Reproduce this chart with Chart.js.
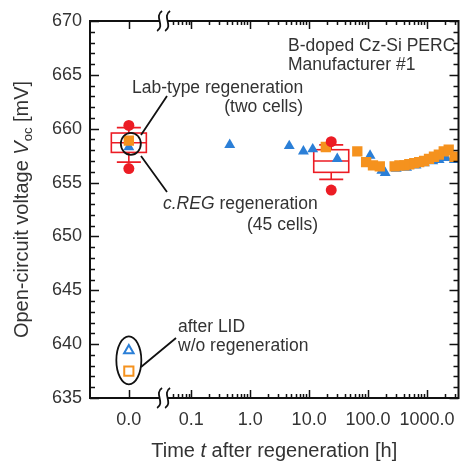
<!DOCTYPE html>
<html><head><meta charset="utf-8">
<script src="https://cdn.jsdelivr.net/npm/chart.js@4"></script>
<style>html,body{margin:0;padding:0;background:#fff}#wrap{width:467px;height:465px}</style>
</head><body><div id="wrap"><canvas id="c" width="467" height="465"></canvas></div>
<script>
// ---------- data ----------
const T_ZERO = 0.00875;               // axis position standing for t = 0.0 h (left of the axis break)
const AXIS_BREAK = 0.034;             // where the x axis is broken
const xMin = 0.00192, xMax = 3415;
const yMin = 635, yMax = 670;
const xTickValues = [T_ZERO, 0.1, 1, 10, 100, 1000];
const xTickLabels = ['0.0', '0.1', '1.0', '10.0', '100.0', '1000.0'];
const yTickStep = 5;

// blue triangles (time in h, Voc in mV)
const blueT = [T_ZERO, 0.45, 4.6, 8.0, 11.5, 30, 108, 171, 195, 300, 450, 650, 900, 1250, 1600, 2100, 2900];
const blueV = [658.3, 658.5, 658.4, 657.9, 658.1, 657.2, 657.5, 656.1, 655.9, 656.3, 656.4, 656.6, 656.8, 657.0, 657.1, 657.3, 657.1];
// orange squares
const orangeT = [T_ZERO, 19.2, 65.6, 92.6, 121, 158, 282, 340, 413, 500, 607, 736, 891, 1080, 1310, 1585, 1920, 2330, 2930];
const orangeV = [658.9, 658.3, 657.9, 656.9, 656.6, 656.5, 656.5, 656.6, 656.6, 656.7, 656.8, 656.9, 657.0, 657.2, 657.4, 657.6, 657.9, 658.05, 657.4];
// after LID, without regeneration (open markers)
const lidBlueV = [639.4];
const lidOrangeV = [637.5];
// c.REG box plots (45 cells)
const boxT    = [T_ZERO, 23.7];
const boxLow  = [656.9, 655.3];
const boxQ1   = [657.8, 655.95];
const boxMed  = [658.7, 657.0];
const boxQ3   = [659.6, 658.05];
const boxHigh = [660.1, 658.5];
const extremeLow  = [656.3, 654.3];
const extremeHigh = [660.3, 658.8];

// ---------- style ----------
const RED = '#ec1c24', BLUE = '#2b7fd7', ORANGE = '#f5921e', TXT = '#333333';
const FONT = '"Liberation Sans", Arial, sans-serif';

const redPts = [];
boxT.forEach((t, i) => { redPts.push({x: t, y: extremeHigh[i]}); redPts.push({x: t, y: extremeLow[i]}); });

const decor = {
  id: 'decor',
  beforeDatasetsDraw(chart) {
    const {ctx, scales: {x, y}} = chart;
    ctx.save();
    ctx.strokeStyle = RED; ctx.lineWidth = 1.6;
    for (let i = 0; i < boxT.length; i++) {
      const cx = x.getPixelForValue(boxT[i]);
      const hw = 17.5, cw = 12;
      const q1 = y.getPixelForValue(boxQ1[i]), q3 = y.getPixelForValue(boxQ3[i]);
      const md = y.getPixelForValue(boxMed[i]);
      const lo = y.getPixelForValue(boxLow[i]), hi = y.getPixelForValue(boxHigh[i]);
      ctx.strokeRect(cx - hw, q3, 2 * hw, q1 - q3);
      ctx.beginPath();
      ctx.moveTo(cx - hw, md); ctx.lineTo(cx + hw, md);
      ctx.moveTo(cx, q3); ctx.lineTo(cx, hi);
      ctx.moveTo(cx - cw, hi); ctx.lineTo(cx + cw, hi);
      ctx.moveTo(cx, q1); ctx.lineTo(cx, lo);
      ctx.moveTo(cx - cw, lo); ctx.lineTo(cx + cw, lo);
      ctx.stroke();
    }
    ctx.restore();
  },
  afterDatasetsDraw(chart) {
    const {ctx, chartArea: a, scales: {x, y}} = chart;
    ctx.save();
    // frame
    ctx.strokeStyle = '#111'; ctx.lineWidth = 2;
    ctx.strokeRect(a.left, a.top, a.right - a.left, a.bottom - a.top);
    // y ticks (inward, both sides)
    ctx.lineWidth = 1.5;
    ctx.beginPath();
    for (let v = yMin; v <= yMax; v++) {
      const py = Math.round(y.getPixelForValue(v)) + 0.5;
      const len = (v % yTickStep === 0) ? 9 : 5;
      ctx.moveTo(a.left, py); ctx.lineTo(a.left + len, py);
      ctx.moveTo(a.right, py); ctx.lineTo(a.right - len, py);
    }
    // x ticks (inward, top and bottom)
    const xt = [];
    xTickValues.forEach(v => xt.push([v, 8]));
    for (let e = -2; e <= 3; e++) {
      for (let m = 2; m <= 9; m++) {
        const v = m * Math.pow(10, e);
        if (v > AXIS_BREAK * 1.4 && v < xMax) xt.push([v, 4]);
      }
    }
    xt.forEach(([v, len]) => {
      const px = Math.round(x.getPixelForValue(v)) + 0.5;
      ctx.moveTo(px, a.bottom); ctx.lineTo(px, a.bottom - len);
      ctx.moveTo(px, a.top); ctx.lineTo(px, a.top + len);
    });
    ctx.stroke();
    // axis break
    const bx = x.getPixelForValue(AXIS_BREAK);
    ctx.fillStyle = '#fff';
    [a.top, a.bottom].forEach(yy => {
      ctx.fillRect(bx - 4, yy - 2, 8, 4);
      ctx.beginPath();
      [-4, 4].forEach(dx => {
        const cx = bx + dx;
        ctx.moveTo(cx + 2.5, yy - 10);
        ctx.bezierCurveTo(cx - 6, yy - 5, cx + 6, yy + 5, cx - 2.5, yy + 10);
      });
      ctx.lineWidth = 1.8; ctx.stroke();
    });
    // annotation ellipses and leader lines
    ctx.strokeStyle = '#111'; ctx.lineWidth = 1.8;
    const x0 = x.getPixelForValue(T_ZERO);
    ctx.beginPath();
    ctx.ellipse(x0 + 2, y.getPixelForValue(658.6), 10, 11, 0, 0, Math.PI * 2);
    ctx.stroke();
    ctx.beginPath();
    ctx.ellipse(x0, y.getPixelForValue(638.5), 12.5, 24, 0, 0, Math.PI * 2);
    ctx.stroke();
    ctx.beginPath();
    ctx.moveTo(141, 135); ctx.lineTo(167, 96);
    ctx.moveTo(141, 156); ctx.lineTo(167, 192);
    ctx.moveTo(141, 367); ctx.lineTo(176, 338);
    ctx.stroke();
    // annotation texts
    ctx.fillStyle = TXT;
    const f = (st) => st + ' 17.5px ' + FONT;
    ctx.font = f('normal');
    ctx.textBaseline = 'alphabetic';
    ctx.textAlign = 'left';
    ctx.fillText('B-doped Cz-Si PERC', 288, 51);
    ctx.fillText('Manufacturer #1', 288, 69.5);
    ctx.fillText('Lab-type regeneration', 132, 92.5);
    ctx.fillText('after LID', 178, 331.5);
    ctx.fillText('w/o regeneration', 178, 350.5);
    ctx.textAlign = 'right';
    ctx.fillText('(two cells)', 303, 111.5);
    ctx.fillText('(45 cells)', 318, 229.5);
    ctx.textAlign = 'left';
    ctx.font = f('italic');
    ctx.fillText('c.REG', 163, 208.5);
    const w1 = ctx.measureText('c.REG').width;
    ctx.font = f('normal');
    ctx.fillText(' regeneration', 163 + w1, 208.5);
    // axis titles
    const tf = (st, s) => st + ' ' + s + 'px ' + FONT;
    const xParts = [['Time ', tf('normal', 20)], ['t', tf('italic', 20)], [' after regeneration [h]', tf('normal', 20)]];
    let tw = 0;
    xParts.forEach(p => { ctx.font = p[1]; tw += ctx.measureText(p[0]).width; });
    let sx = (a.left + a.right) / 2 - tw / 2;
    xParts.forEach(p => { ctx.font = p[1]; ctx.fillText(p[0], sx, 457); sx += ctx.measureText(p[0]).width; });
    ctx.save();
    ctx.translate(28, (a.top + a.bottom) / 2);
    ctx.rotate(-Math.PI / 2);
    const yParts = [['Open-circuit voltage ', tf('normal', 20), 0], ['V', tf('italic', 20), 0], ['oc', tf('normal', 13), 4], [' [mV]', tf('normal', 20), 0]];
    tw = 0;
    yParts.forEach(p => { ctx.font = p[1]; tw += ctx.measureText(p[0]).width; });
    sx = -tw / 2;
    yParts.forEach(p => { ctx.font = p[1]; ctx.fillText(p[0], sx, p[2]); sx += ctx.measureText(p[0]).width; });
    ctx.restore();
    ctx.restore();
  }
};

new Chart(document.getElementById('c'), {
  type: 'scatter',
  data: {
    datasets: [
      { label: 'c.REG extremes', data: redPts, order: 0, pointStyle: 'circle', pointRadius: 5.5,
        backgroundColor: RED, borderColor: RED, borderWidth: 0 },
      { label: 'orange', data: orangeT.map((t, i) => ({x: t, y: orangeV[i]})), order: 1, pointStyle: 'rect',
        pointRadius: 7.3, backgroundColor: ORANGE, borderColor: ORANGE, borderWidth: 0 },
      { label: 'blue', data: blueT.map((t, i) => ({x: t, y: blueV[i]})), order: 2, pointStyle: 'triangle',
        pointRadius: 6.3, backgroundColor: BLUE, borderColor: BLUE, borderWidth: 0 },
      { label: 'LID blue', data: lidBlueV.map(v => ({x: T_ZERO, y: v})), order: 3, pointStyle: 'triangle',
        pointRadius: 5.5, backgroundColor: '#fff', borderColor: BLUE, borderWidth: 2 },
      { label: 'LID orange', data: lidOrangeV.map(v => ({x: T_ZERO, y: v})), order: 4, pointStyle: 'rect',
        pointRadius: 6.5, backgroundColor: '#fff', borderColor: ORANGE, borderWidth: 2 }
    ]
  },
  options: {
    responsive: false, animation: false, devicePixelRatio: 1,
    layout: { padding: { top: 21, right: 2, left: 0, bottom: 0 } },
    plugins: { legend: { display: false }, tooltip: { enabled: false } },
    scales: {
      x: {
        type: 'logarithmic', min: xMin, max: xMax, bounds: 'data',
        grid: { display: false, drawTicks: false }, border: { display: false },
        afterBuildTicks: s => { s.ticks = xTickValues.map(v => ({value: v})); },
        afterFit: s => { s.height = 67; },
        ticks: { autoSkip: false, maxRotation: 0, padding: 11, color: TXT,
          font: { family: FONT, size: 18 },
          callback: (v, i) => xTickLabels[i] }
      },
      y: {
        type: 'linear', min: yMin, max: yMax,
        grid: { display: false, drawTicks: false }, border: { display: false },
        afterFit: s => { s.width = 90; },
        ticks: { stepSize: yTickStep, padding: 8, color: TXT, font: { family: FONT, size: 18 } }
      }
    }
  },
  plugins: [decor]
});
</script></body></html>
